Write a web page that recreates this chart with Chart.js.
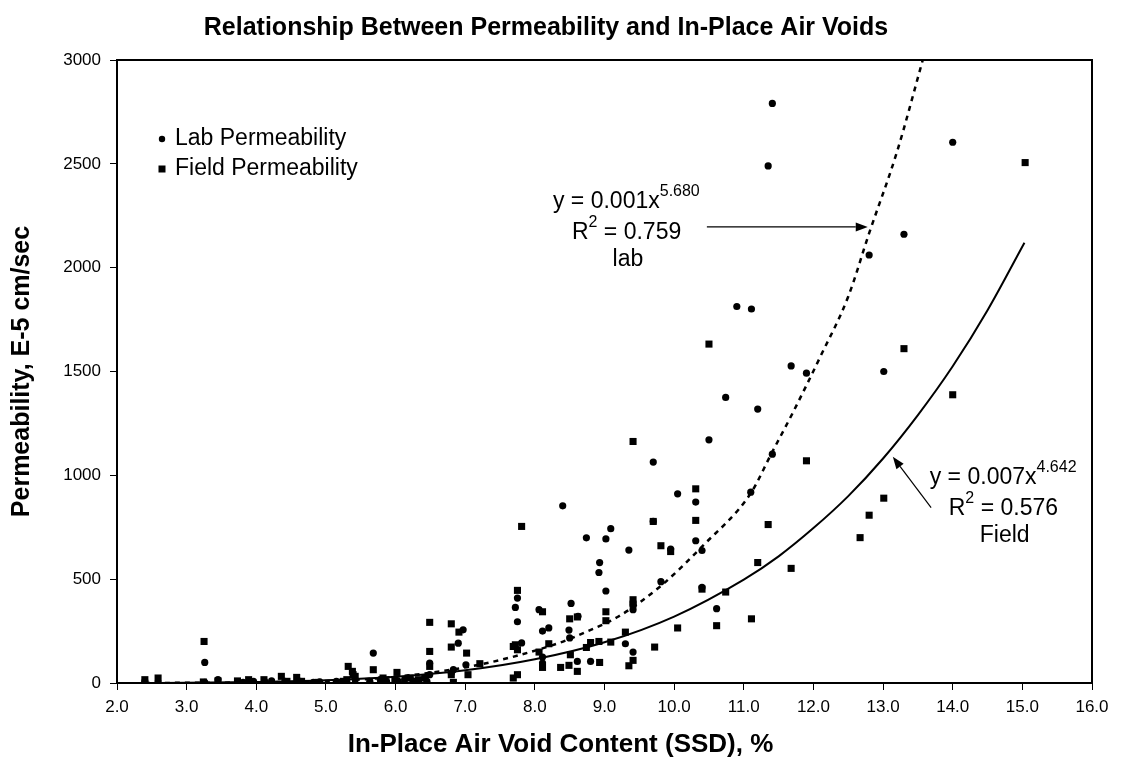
<!DOCTYPE html>
<html>
<head>
<meta charset="utf-8">
<script src="https://cdn.jsdelivr.net/npm/chart.js@4.4.0/dist/chart.umd.min.js"></script>
<style>
  html, body { margin: 0; padding: 0; background: #fff; }
  #wrap { width: 1121px; height: 767px; }
</style>
</head>
<body>
<div id="wrap"><canvas id="chart" width="1121" height="767"></canvas></div>
<script>
// ---- data ----
const LAB_X = [2.40,2.59,3.26,3.26,3.45,3.81,3.96,4.12,4.22,4.41,4.63,4.82,4.91,5.15,5.27,5.42,5.63,5.68,5.78,5.87,
  6.04,6.13,6.25,6.45,6.49,6.49,6.80,6.83,6.90,6.97,7.01,7.72,7.75,7.75,7.81,8.06,8.11,8.11,8.11,8.20,
  8.40,8.49,8.50,8.52,8.61,8.62,8.74,8.80,8.92,8.93,9.02,9.02,9.09,9.30,9.35,9.41,9.41,9.41,9.70,9.70,
  9.81,9.95,10.05,10.31,10.31,10.40,10.40,10.50,10.61,10.74,10.90,11.10,11.11,11.20,11.35,11.41,11.41,11.68,11.90,12.80,
  13.01,13.30,14.00];
const LAB_Y = [8,3,99,3,16,3,8,8,10,8,8,3,5,8,8,16,8,144,16,8,
  8,16,10,8,96,40,48,64,192,256,88,364,409,295,193,353,250,125,96,265,
  853,255,217,383,104,321,699,104,532,580,694,443,743,189,640,377,353,149,1064,778,
  488,645,911,871,685,638,460,1171,358,1375,1813,919,1801,1319,2490,2791,1102,1527,1492,2061,
  1500,2161,2604];

const FIELD_X = [2.40,2.59,3.25,3.24,3.45,3.73,3.89,4.11,4.36,4.44,4.58,4.65,4.89,5.25,5.30,5.32,5.38,5.39,5.42,5.68,
  5.82,5.99,6.02,6.21,6.33,6.42,6.49,6.49,6.49,6.80,6.80,6.80,6.83,6.91,7.02,7.04,7.21,7.69,7.69,7.72,
  7.75,7.75,7.75,7.81,8.06,8.11,8.11,8.20,8.37,8.49,8.50,8.51,8.61,8.61,8.74,8.80,8.92,8.93,9.02,9.02,
  9.09,9.30,9.35,9.41,9.41,9.41,9.41,9.70,9.72,9.81,9.95,10.05,10.31,10.31,10.40,10.50,10.61,10.74,11.11,11.20,
  11.35,11.68,11.90,12.67,12.80,13.01,13.30,14.00,15.04];
const FIELD_Y = [16,24,200,5,10,10,16,16,32,8,27,8,3,8,16,80,56,40,32,64,
  24,16,51,24,16,24,152,292,80,285,173,40,3,245,144,40,93,24,176,184,
  40,160,446,754,149,343,75,189,75,85,309,136,56,318,171,195,200,99,343,300,
  197,245,83,1163,401,380,109,778,173,661,633,265,935,783,452,1632,276,438,309,580,
  763,552,1070,700,808,890,1610,1388,2506];

// power-law trend lines
const LAB_FIT_X = [2.4,3,4,5,6,7.2,8.35,8.75,9.2,9.8,10.4,11.1,11.4,11.7,12.1,12.5,12.8,13.2,13.57];
const LAB_FIT_Y = [0,1,3,10,30,88,193,248,320,465,657,914,1107,1299,1572,1861,2166,2558,3000];
const FIELD_FIT_X = [2.4,3,4,5,6,7,8,9,10,11,11.5,12,12.5,13,13.5,14,14.5,15.03];
const FIELD_FIT_Y = [0,1,5,13,30,61,114,196,320,498,610,746,900,1081,1290,1525,1795,2120];

const X_TICKS = [2,3,4,5,6,7,8,9,10,11,12,13,14,15,16];
const Y_TICKS = [0,500,1000,1500,2000,2500,3000];

const FONT = "'Liberation Sans', Arial, Helvetica, sans-serif";

function pts(xs, ys){ return xs.map((x, i) => ({ x, y: ys[i] })); }

// ---- drawing helpers for legend / fit labels ----
function supText(ctx, x, y, base, sup, size){
  ctx.font = `${size}px ${FONT}`;
  ctx.textBaseline = 'middle';
  ctx.textAlign = 'left';
  ctx.fillText(base, x, y);
  const w = ctx.measureText(base).width;
  ctx.font = `${Math.round(size * 0.68)}px ${FONT}`;
  ctx.fillText(sup, x + w, y - 10);
  return w + ctx.measureText(sup).width;
}

function fitLabel(ctx, x, y, coef, pow, r2, name, size){
  supText(ctx, x, y, `y = ${coef}x`, pow, size);
  const w1 = supText(ctx, x + 19, y + 31, 'R', '2', size);
  ctx.font = `${size}px ${FONT}`;
  ctx.fillText(` = ${r2}`, x + 19 + w1, y + 31);
  ctx.textAlign = 'center';
  ctx.fillText(name, x + 75, y + 58);
}

function arrow(ctx, x1, y1, x2, y2){
  const a = Math.atan2(y2 - y1, x2 - x1), L = 12, W = 4.5;
  ctx.beginPath();
  ctx.moveTo(x1, y1);
  ctx.lineTo(x2 - L * Math.cos(a), y2 - L * Math.sin(a));
  ctx.lineWidth = 1.2;
  ctx.stroke();
  ctx.beginPath();
  ctx.moveTo(x2, y2);
  ctx.lineTo(x2 - L * Math.cos(a) + W * Math.sin(a), y2 - L * Math.sin(a) - W * Math.cos(a));
  ctx.lineTo(x2 - L * Math.cos(a) - W * Math.sin(a), y2 - L * Math.sin(a) + W * Math.cos(a));
  ctx.closePath();
  ctx.fill();
}

const extras = {
  id: 'extras',
  afterDraw(chart){
    const { ctx, chartArea: a, scales: { x, y } } = chart;
    ctx.save();
    ctx.fillStyle = '#000';
    ctx.strokeStyle = '#000';

    // frame round the plot
    ctx.lineWidth = 2;
    ctx.strokeRect(a.left, a.top, a.right - a.left, a.bottom - a.top);

    // x axis title, centred on the page like the original
    ctx.font = `bold 26px ${FONT}`;
    ctx.textAlign = 'center';
    ctx.textBaseline = 'middle';
    ctx.fillText('In-Place Air Void Content (SSD), %', chart.width / 2, a.bottom + 62);

    // legend in the upper left of the plot
    const lx = a.left + 45, ly = a.top + 79;
    ctx.beginPath(); ctx.arc(lx, ly, 3.2, 0, Math.PI * 2); ctx.fill();
    ctx.fillRect(lx - 3.5, ly + 26.5, 7, 7);
    ctx.font = `23px ${FONT}`;
    ctx.textAlign = 'left';
    ctx.fillText('Lab Permeability', lx + 13, ly);
    ctx.fillText('Field Permeability', lx + 13, ly + 30);

    // trend line labels
    fitLabel(ctx, x.getPixelForValue(8.26), y.getPixelForValue(2316), '0.001', '5.680', '0.759', 'lab', 23);
    arrow(ctx, x.getPixelForValue(10.47), y.getPixelForValue(2196), x.getPixelForValue(12.78), y.getPixelForValue(2196));
    fitLabel(ctx, x.getPixelForValue(13.67), y.getPixelForValue(988), '0.007', '4.642', '0.576', 'Field', 23);
    arrow(ctx, x.getPixelForValue(13.69), y.getPixelForValue(844), x.getPixelForValue(13.14), y.getPixelForValue(1089));
    ctx.restore();
  }
};

new Chart(document.getElementById('chart'), {
  type: 'scatter',
  data: {
    datasets: [
      { label: 'Lab Permeability', data: pts(LAB_X, LAB_Y), pointStyle: 'circle', pointRadius: 3.6,
        backgroundColor: '#000', borderWidth: 0 },
      { label: 'Field Permeability', data: pts(FIELD_X, FIELD_Y), pointStyle: 'rect', pointRadius: 5,
        backgroundColor: '#000', borderWidth: 0 },
      { label: 'lab fit', data: pts(LAB_FIT_X, LAB_FIT_Y), showLine: true, pointRadius: 0,
        borderColor: '#000', borderWidth: 2.5, borderDash: [5, 5], cubicInterpolationMode: 'monotone' },
      { label: 'field fit', data: pts(FIELD_FIT_X, FIELD_FIT_Y), showLine: true, pointRadius: 0,
        borderColor: '#000', borderWidth: 2, cubicInterpolationMode: 'monotone' }
    ]
  },
  options: {
    responsive: false,
    animation: false,
    layout: { padding: { left: 0, right: 29, top: 0, bottom: 0 } },
    plugins: {
      legend: { display: false },
      tooltip: { enabled: false },
      title: {
        display: true,
        text: 'Relationship Between Permeability and In-Place Air Voids',
        color: '#000',
        font: { family: FONT, size: 25, weight: 'bold' },
        padding: { top: 13, bottom: 17 }
      }
    },
    scales: {
      x: {
        type: 'linear', min: 2, max: 16,
        afterBuildTicks: s => { s.ticks = X_TICKS.map(v => ({ value: v })); },
        afterFit: s => { s.height = 84; },
        ticks: { color: '#000', font: { family: FONT, size: 17 }, padding: 7,
          callback: v => Number(v).toFixed(1) },
        grid: { drawOnChartArea: false, drawTicks: true, tickLength: 7, color: '#000', lineWidth: 1 },
        border: { color: '#000', width: 2 }
      },
      y: {
        type: 'linear', min: 0, max: 3000,
        afterBuildTicks: s => { s.ticks = Y_TICKS.map(v => ({ value: v })); },
        afterFit: s => { s.width = 117; },
        ticks: { color: '#000', font: { family: FONT, size: 17 }, padding: 9,
          callback: v => String(v) },
        grid: { drawOnChartArea: false, drawTicks: true, tickLength: 7, color: '#000', lineWidth: 1 },
        border: { color: '#000', width: 2 },
        title: { display: true, text: 'Permeability, E-5 cm/sec', color: '#000',
          font: { family: FONT, size: 25, weight: 'bold' }, padding: { top: 7, bottom: 0 } }
      }
    }
  },
  plugins: [extras]
});
</script>
</body>
</html>
